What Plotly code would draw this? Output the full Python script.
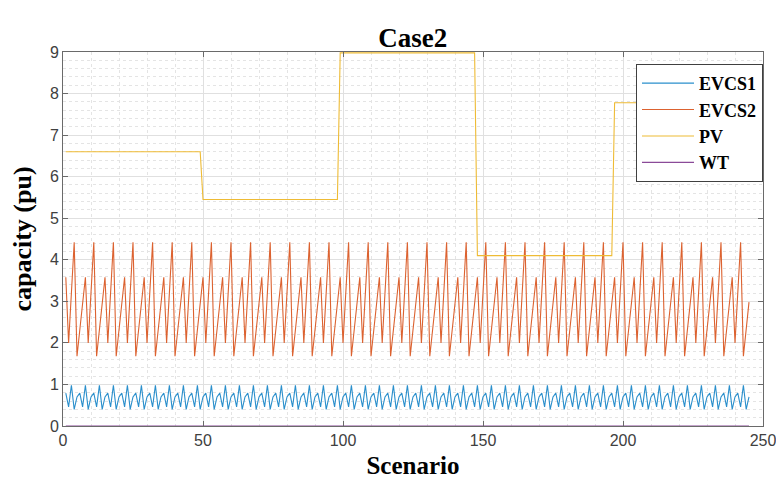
import plotly.graph_objects as go

# ---- data ----
n_scen = 245
scenario = list(range(1, n_scen + 1))
# one repeating cycle of each EV charging station profile
evcs1_cycle = [0.79, 0.46, 0.98, 0.40, 0.70]
evcs2_cycle = [3.58, 2.00, 3.20, 4.42, 1.68, 2.33, 2.98]
# PV capacity levels, each held for a block of scenarios
pv_levels = [6.60, 5.45, 8.98, 4.10, 7.78]
pv_block = 49
wt_level = 0.0

evcs1 = [evcs1_cycle[i % len(evcs1_cycle)] for i in range(n_scen)]
evcs2 = [evcs2_cycle[i % len(evcs2_cycle)] for i in range(n_scen)]
pv = [pv_levels[i // pv_block] for i in range(n_scen)]
wt = [wt_level for _ in range(n_scen)]

series = [
    ("EVCS1", evcs1, "#2a8fcc"),
    ("EVCS2", evcs2, "#dc6230"),
    ("PV", pv, "#eebb35"),
    ("WT", wt, "#8a4a98"),
]

fig = go.Figure()
for name, vals, col in series:
    fig.add_trace(go.Scatter(x=scenario, y=vals, mode="lines",
                             name="<b>" + name + "</b>",
                             line=dict(color=col, width=1.1)))

serif = "Liberation Serif"
sans = "Liberation Sans"
axcol = "#6a6a6a"

fig.update_layout(
    width=776, height=482,
    margin=dict(l=63, r=13, t=52, b=56, autoexpand=False),
    paper_bgcolor="white", plot_bgcolor="white",
    title=dict(text="<b>Case2</b>", x=0.532, xanchor="center",
               y=0.922, yanchor="middle",
               font=dict(family=serif, size=27, color="black")),
    legend=dict(x=1.0, xanchor="right", y=0.968, yanchor="top",
                bgcolor="white", bordercolor="#404040", borderwidth=1,
                font=dict(family=serif, size=18, color="black"),
                itemwidth=52, tracegroupgap=0),
    showlegend=True,
)

fig.update_xaxes(
    range=[0, 250], dtick=50, tick0=0, automargin=False,
    showline=True, linecolor=axcol, linewidth=1, mirror="ticks",
    ticks="inside", ticklen=5, tickcolor=axcol,
    showgrid=True, gridcolor="#e0e0e0", gridwidth=1,
    minor=dict(dtick=10, showgrid=True, gridcolor="#e4e4e4", griddash="dot",
               ticks=""),
    zeroline=False, ticklabeloverflow="allow",
    tickfont=dict(family=sans, size=16, color="#404040"),
    title=dict(text="<b>Scenario</b>", standoff=8,
               font=dict(family=serif, size=25, color="black")),
)
fig.update_yaxes(
    range=[0, 9], dtick=1, tick0=0, automargin=False,
    showline=True, linecolor=axcol, linewidth=1, mirror="ticks",
    ticks="inside", ticklen=5, tickcolor=axcol,
    showgrid=True, gridcolor="#e0e0e0", gridwidth=1,
    minor=dict(dtick=0.2, showgrid=True, gridcolor="#e4e4e4", griddash="dot",
               ticks=""),
    zeroline=False, ticklabeloverflow="allow",
    tickfont=dict(family=sans, size=16, color="#404040"),
    title=dict(text="<b>capacity (pu)</b>", standoff=10,
               font=dict(family=serif, size=26, color="black")),
)

fig.write_html("out.html")
